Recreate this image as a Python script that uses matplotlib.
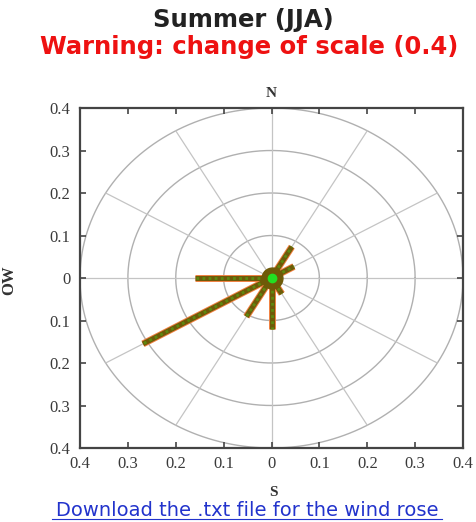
import numpy as np
import matplotlib
matplotlib.use("Agg")
from matplotlib import pyplot as plt
from matplotlib.ticker import FuncFormatter

# wind rose values (bearing in degrees from N, frequency)
bearings = [0, 30, 60, 90, 120, 150, 180, 210, 240, 270, 300, 330]
freqs = [0.02, 0.085, 0.054, 0.02, 0.02, 0.043, 0.12, 0.105, 0.31, 0.16, 0.02, 0.02]

grid_radii = [0.1, 0.2, 0.3, 0.4]
grid_angles = np.arange(0, 360, 30)
ticks = [-0.4, -0.3, -0.2, -0.1, 0, 0.1, 0.2, 0.3, 0.4]

fig = plt.figure(figsize=(4.77, 5.22), dpi=100)
ax = fig.add_axes([80 / 477, 1 - 448 / 522, 383 / 477, 340 / 522])

# grid: circles and spokes
t = np.linspace(0, 2 * np.pi, 400)
for r in grid_radii:
    ax.plot(r * np.cos(t), r * np.sin(t), color="#b0b0b0", lw=1.0, zorder=1)
for a in grid_angles:
    rad = np.deg2rad(a)
    ax.plot([0, 0.4 * np.sin(rad)], [0, 0.4 * np.cos(rad)], color="#c4c4c4", lw=0.9, zorder=1)

# bars
for b, f in zip(bearings, freqs):
    rad = np.deg2rad(b)
    xs = [0, f * np.sin(rad)]
    ys = [0, f * np.cos(rad)]
    ax.plot(xs, ys, color="#f08040", lw=5.0, solid_capstyle="butt", zorder=3)
    ax.plot(xs, ys, color="#6e5a08", lw=3.6, solid_capstyle="butt", zorder=4)
    ax.plot(xs, ys, color="#5e8a10", lw=2.0, linestyle=(0, (1, 1.2)), zorder=5)

ax.plot([0], [0], "o", color="#6e5a08", markersize=15, zorder=6)
ax.plot([0], [0], "o", color="#22e022", markersize=6, zorder=7)

ax.set_xlim(-0.4, 0.4)
ax.set_ylim(-0.4, 0.4)
ax.set_xticks(ticks)
ax.set_yticks(ticks)
fmt = FuncFormatter(lambda v, p: "0" if abs(v) < 1e-9 else ("%.1f" % abs(v)))
ax.xaxis.set_major_formatter(fmt)
ax.yaxis.set_major_formatter(fmt)
ax.tick_params(direction="in", length=4, width=1.2, color="#444444",
               top=True, right=True, labelsize=12, labelcolor="#3a3a3a")
ax.tick_params(axis="x", pad=6)
ax.tick_params(axis="y", pad=7)
for lab in ax.get_xticklabels() + ax.get_yticklabels():
    lab.set_family("Liberation Serif")
for s in ax.spines.values():
    s.set_linewidth(1.6)
    s.set_color("#444444")

ax.text(0.5, 1.025, "N", transform=ax.transAxes, ha="center", va="bottom",
        family="Liberation Serif", fontsize=11, fontweight="bold", color="#333333")
fig.text(273 / 477, 1 - 492 / 522, "S", ha="center", va="center",
         family="Liberation Serif", fontsize=11, fontweight="bold", color="#333333")
fig.text(9 / 477, 1 - 280 / 522, "OW", ha="center", va="center", rotation=90,
         family="Liberation Serif", fontsize=12, fontweight="bold", color="#333333")

fig.text(243 / 477, 1 - 20 / 522, "Summer (JJA)", ha="center", va="center",
         fontsize=17.5, fontweight="bold", color="#222222")
fig.text(249 / 477, 1 - 47 / 522, "Warning: change of scale (0.4)", ha="center", va="center",
         fontsize=17.5, fontweight="bold", color="#ee1111")
fig.text(247 / 477, 1 - 510 / 522, "Download the .txt file for the wind rose", ha="center",
         va="center", fontsize=14, color="#2233cc")
fig.add_artist(plt.Line2D([52 / 477, 442 / 477], [1 - 519 / 522, 1 - 519 / 522],
                          color="#2233cc", lw=0.8))

fig.savefig("out.png", dpi=100)
